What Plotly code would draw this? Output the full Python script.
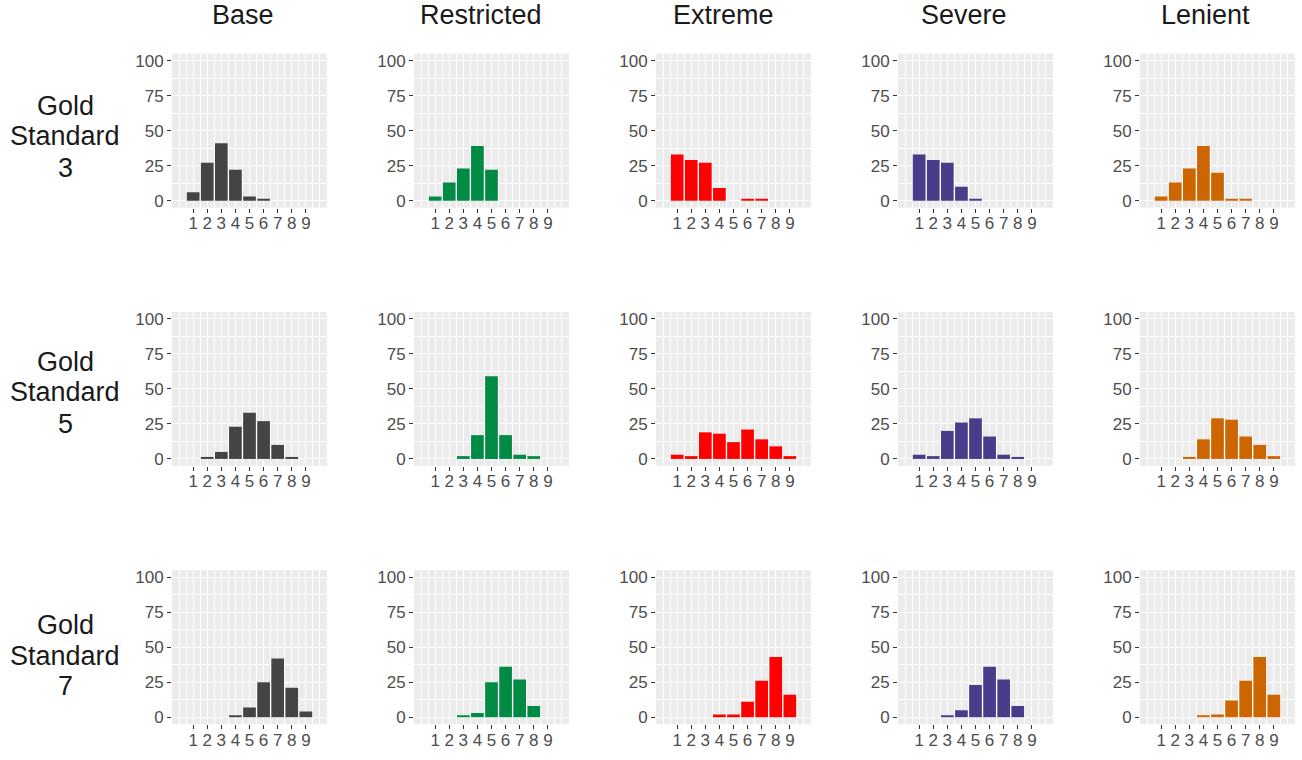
import plotly.graph_objects as go

# Score categories on the x axis
scores = [1, 2, 3, 4, 5, 6, 7, 8, 9]
conditions = ["Base", "Restricted", "Extreme", "Severe", "Lenient"]
gold_standards = [3, 5, 7]

# Percentage of ratings per score, one list per (gold standard, condition)
gs3_base = [6, 27, 41, 22, 3, 1, 0, 0, 0]
gs3_restricted = [3, 13, 23, 39, 22, 0, 0, 0, 0]
gs3_extreme = [33, 29, 27, 9, 0, 1, 1, 0, 0]
gs3_severe = [33, 29, 27, 10, 1, 0, 0, 0, 0]
gs3_lenient = [3, 13, 23, 39, 20, 1, 1, 0, 0]

gs5_base = [0, 1, 5, 23, 33, 27, 10, 1, 0]
gs5_restricted = [0, 0, 2, 17, 59, 17, 3, 2, 0]
gs5_extreme = [3, 2, 19, 18, 12, 21, 14, 9, 2]
gs5_severe = [3, 2, 20, 26, 29, 16, 3, 1, 0]
gs5_lenient = [0, 0, 1, 14, 29, 28, 16, 10, 2]

gs7_base = [0, 0, 0, 1, 7, 25, 42, 21, 4]
gs7_restricted = [0, 0, 1, 3, 25, 36, 27, 8, 0]
gs7_extreme = [0, 0, 0, 2, 2, 11, 26, 43, 16]
gs7_severe = [0, 0, 1, 5, 23, 36, 27, 8, 0]
gs7_lenient = [0, 0, 0, 1, 2, 12, 26, 43, 16]

panel_values = [
    [gs3_base, gs3_restricted, gs3_extreme, gs3_severe, gs3_lenient],
    [gs5_base, gs5_restricted, gs5_extreme, gs5_severe, gs5_lenient],
    [gs7_base, gs7_restricted, gs7_extreme, gs7_severe, gs7_lenient],
]

condition_colors = ["#444444", "#008B45", "#FF0000", "#483D8B", "#CD6600"]

y_ticks = [0, 25, 50, 75, 100]

W, H = 1302, 760
col_left = [172, 414, 656, 898, 1140]
row_top = [52, 312, 572]
panel_w, panel_h = 155, 155

fig = go.Figure()
layout = dict(
    width=W, height=H,
    margin=dict(l=0, r=0, t=0, b=0),
    paper_bgcolor="white",
    plot_bgcolor="#EBEBEB",
    showlegend=False,
    bargap=0.1,
    font=dict(family="Liberation Sans, Arial, sans-serif"),
)

annotations = []
idx = 0
for r, gs in enumerate(gold_standards):
    for c, cond in enumerate(conditions):
        idx += 1
        xa = "x" if idx == 1 else f"x{idx}"
        ya = "y" if idx == 1 else f"y{idx}"
        fig.add_trace(go.Bar(
            x=scores, y=panel_values[r][c],
            marker=dict(color=condition_colors[c], line=dict(width=0)),
            width=0.9,
            xaxis=xa, yaxis=ya,
            hovertemplate=f"{cond}, Gold Standard {gs}<br>Score %{{x}}: %{{y}}<extra></extra>",
        ))
        x0 = col_left[c] / W
        x1 = (col_left[c] + panel_w) / W
        y1 = 1 - row_top[r] / H
        y0 = 1 - (row_top[r] + panel_h) / H
        common = dict(
            showgrid=True, gridcolor="white", gridwidth=1.1,
            zeroline=False, showline=False,
            ticks="outside", ticklen=4, tickwidth=1, tickcolor="#333333",
            tickfont=dict(size=17, color="#4D4D4D"),
            fixedrange=True,
        )
        layout["xaxis" + ("" if idx == 1 else str(idx))] = dict(
            common,
            domain=[x0, x1], anchor=ya,
            range=[-0.5, 10.5],
            ticklabelstandoff=-4,
            tickmode="array", tickvals=scores, ticktext=[str(s) for s in scores],
            minor=dict(tickmode="array",
                       tickvals=[0, 0.5, 1.5, 2.5, 3.5, 4.5, 5.5, 6.5, 7.5, 8.5, 9.5, 10],
                       showgrid=True, gridcolor="white", gridwidth=0.6, ticks=""),
        )
        layout["yaxis" + ("" if idx == 1 else str(idx))] = dict(
            common,
            domain=[y0, y1], anchor=xa,
            range=[-5, 105],
            tickmode="array", tickvals=y_ticks, ticktext=[str(v) for v in y_ticks],
            minor=dict(tickmode="array", tickvals=[12.5, 37.5, 62.5, 87.5],
                       showgrid=True, gridcolor="white", gridwidth=0.6, ticks=""),
        )

# Column titles
title_x = [243, 481, 723, 964, 1205]
for c, cond in enumerate(conditions):
    annotations.append(dict(
        text=cond, x=title_x[c] / W, y=1 - 13 / H, xref="paper", yref="paper",
        xanchor="center", yanchor="middle", showarrow=False,
        font=dict(size=27, color="#1A1A1A"),
    ))

# Row labels, one annotation per line
row_line_y = [[105, 135, 167], [362, 393, 425], [627, 658, 689]]
for r, gs in enumerate(gold_standards):
    for line, yy in zip(["Gold", "Standard", str(gs)], row_line_y[r]):
        annotations.append(dict(
            text=line, x=65 / W, y=1 - yy / H,
            xref="paper", yref="paper", xanchor="center", yanchor="middle",
            showarrow=False,
            font=dict(size=27, color="#1A1A1A"),
        ))

layout["annotations"] = annotations
fig.update_layout(**layout)
fig.write_html("out.html")
